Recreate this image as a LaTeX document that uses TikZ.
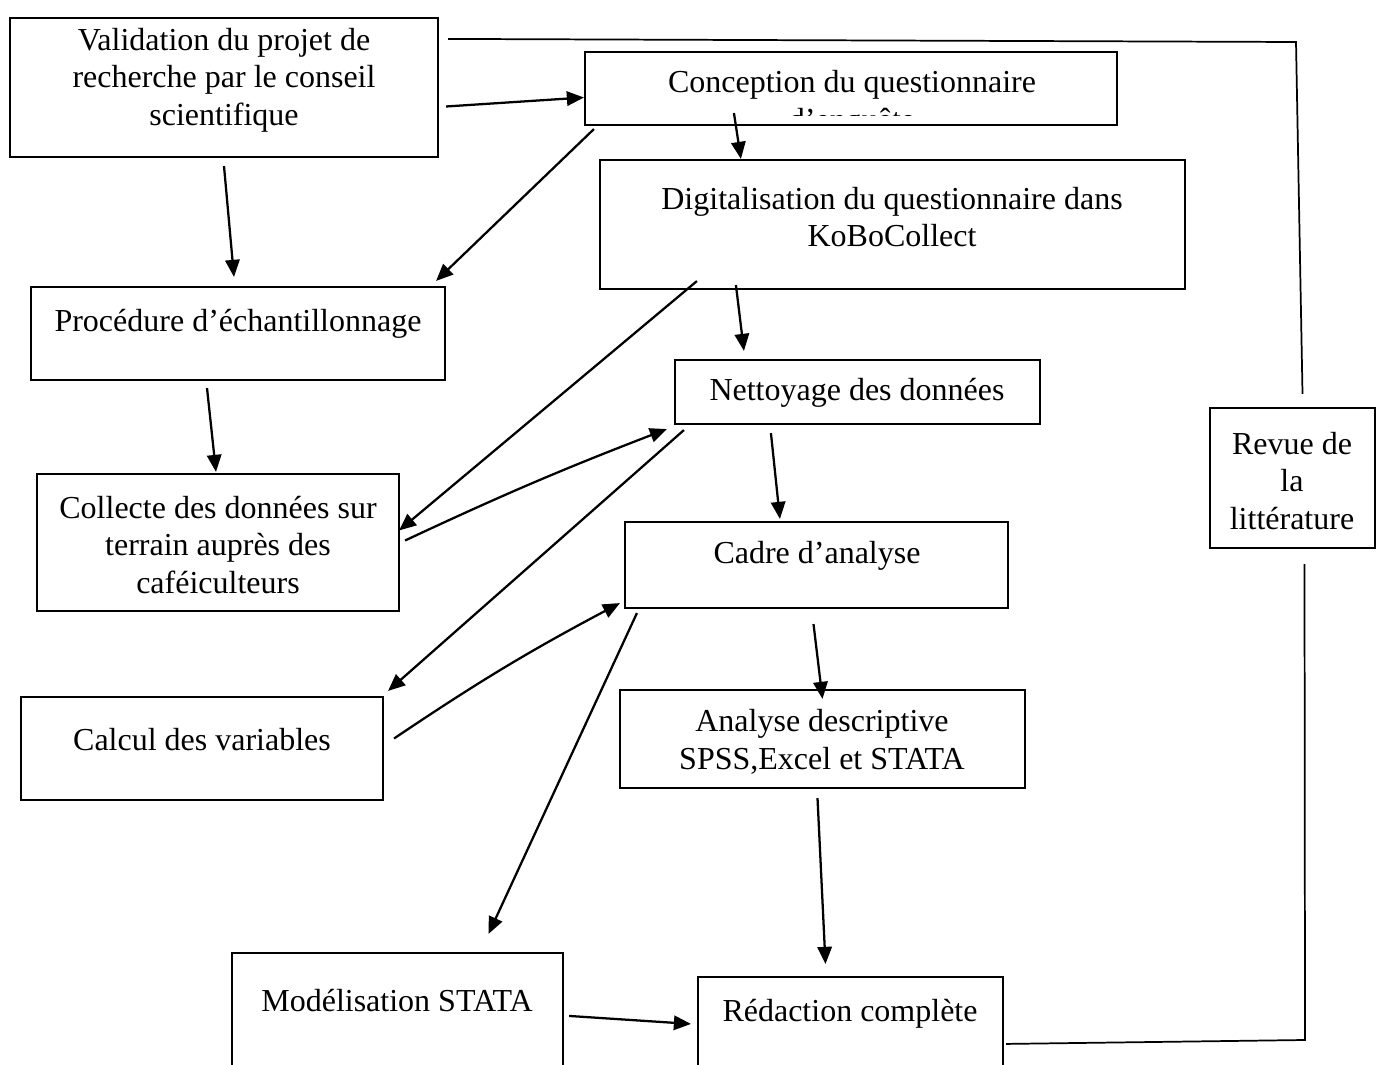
\documentclass[tikz,border=0pt]{standalone}
\usepackage{fontspec}
\setmainfont{Liberation Serif}
\usetikzlibrary{arrows.meta,positioning,calc,fit}
\tikzset{
  block/.style={draw=black, line width=0.8pt, inner sep=0pt},
  txt/.style={align=center, inner sep=0pt, font=\fontsize{12}{14.1}\selectfont},
  arrow/.style={-{Triangle[length=6.4pt,width=5.4pt]}, line width=0.85pt, draw=black},
  link/.style={line width=0.65pt, draw=black}
}
\begin{document}
\begin{tikzpicture}[x=0.375pt,y=-0.375pt]
        \clip (0,0) rectangle (1384,1065);
        % boxes (left/top/right/bottom in px)
        \node[block, fit={(10,18) (438,157)}] (valid) {};
        \node[block, fit={(585,52) (1117,125)}] (concept) {};
        \node[block, fit={(600,160) (1185,289)}] (digit) {};
        \node[block, fit={(31,287) (445,380)}] (proc) {};
        \node[block, fit={(675,360) (1040,424)}] (nett) {};
        \node[block, fit={(37,474) (399,611)}] (coll) {};
        \node[block, fit={(625,522) (1008,608)}] (cadre) {};
        \node[block, fit={(21,697) (383,800)}] (calc) {};
        \node[block, fit={(620,690) (1025,788)}] (analyse) {};
        \node[block, fit={(1210,408) (1375,548)}] (revue) {};
        \node[block, fit={(232,953) (563,1100)}] (model) {};
        \node[block, fit={(698,977) (1003,1100)}] (redac) {};
        % texts
        \node[txt] (validT) at (224,80) {Validation du projet de\\recherche par le conseil\\scientifique};
        \begin{scope}
          \clip (concept.north west) rectangle ($(concept.south east)+(0,-11)$);
          \node[txt] (conceptT) at (852,104) {Conception du questionnaire\\d’enquête};
        \end{scope}
        \node[txt] (digitT) at (892,217) {Digitalisation du questionnaire dans\\KoBoCollect};
        \node[txt] (procT) at (238,324) {Procédure d’échantillonnage};
        \node[txt] (nettT) at (857,393) {Nettoyage des données};
        \node[txt] (collT) at (218,545) {Collecte des données sur\\terrain auprès des\\caféiculteurs};
        \node[txt] (cadreT) at (817,556) {Cadre d’analyse};
        \node[txt] (calcT) at (202,740) {Calcul des variables};
        \node[txt] (analyseT) at (822,742) {Analyse descriptive\\SPSS,Excel et STATA};
        \node[txt] (revueT) at (1292,481) {Revue de\\la\\littérature};
        \node[txt] (modelT) at (397,1001) {Modélisation STATA};
        \node[txt] (redacT) at (850,1014) {Rédaction complète};
        % arrows
        \draw[arrow] ($(valid.east)+(7,19)$) -- ($(concept.west)+(0,9)$);
        \draw[arrow] ($(valid.south)+(0,8)$) -- ($(proc.north)+(-4,-9)$);
        \draw[arrow] ($(concept.south west)+(10,3)$) -- ($(proc.north east)+(-10,-5)$);
        \draw[arrow] ($(concept.south west)+(150,-13)$) -- ($(digit.north west)+(142,0)$);
        \draw[arrow] ($(digit.south west)+(137,-5)$) -- ($(nett.north west)+(70,-8)$);
        \draw[arrow] ($(digit.south west)+(98,-9)$) -- ($(coll.east)+(-1,-12)$);
        \draw[arrow] ($(proc.south)+(-31,7)$) -- ($(coll.north)+(-2,-1)$);
        \draw[arrow] ($(coll.east)+(5,-2)$) to[bend left=2] ($(nett.south west)+(-7,4)$);
        \draw[arrow] ($(nett.south west)+(10,5)$) -- ($(calc.north east)+(4,-5)$);
        \draw[arrow] ($(nett.south west)+(97,8)$) -- ($(cadre.north west)+(156,-2)$);
        \draw[arrow] ($(calc.east)+(10,-10)$) to[bend left=3] ($(cadre.south west)+(-4,-6)$);
        \draw[arrow] ($(cadre.south west)+(13,4)$) -- ($(model.north)+(91,-18)$);
        \draw[arrow] ($(cadre.south)+(-3,15)$) -- ($(analyse.north)+(0,10)$);
        \draw[arrow] ($(analyse.south)+(-5,9)$) -- ($(redac.north)+(-25,-12)$);
        \draw[arrow] ($(model.north east)+(5,64)$) -- ($(redac.north west)+(-6,48)$);
        % loop back through the literature review
        \coordinate (cornerBR) at (1305,1040);
        \coordinate (cornerTR) at (1296,42);
        \draw[link] ($(redac.north east)+(2,68)$) -- (cornerBR) -- ($(revue.south)+(12,15)$);
        \draw[link] ($(revue.north)+(10,-13)$) -- (cornerTR) -- ($(valid.north east)+(9,22)$);
\end{tikzpicture}
\end{document}
